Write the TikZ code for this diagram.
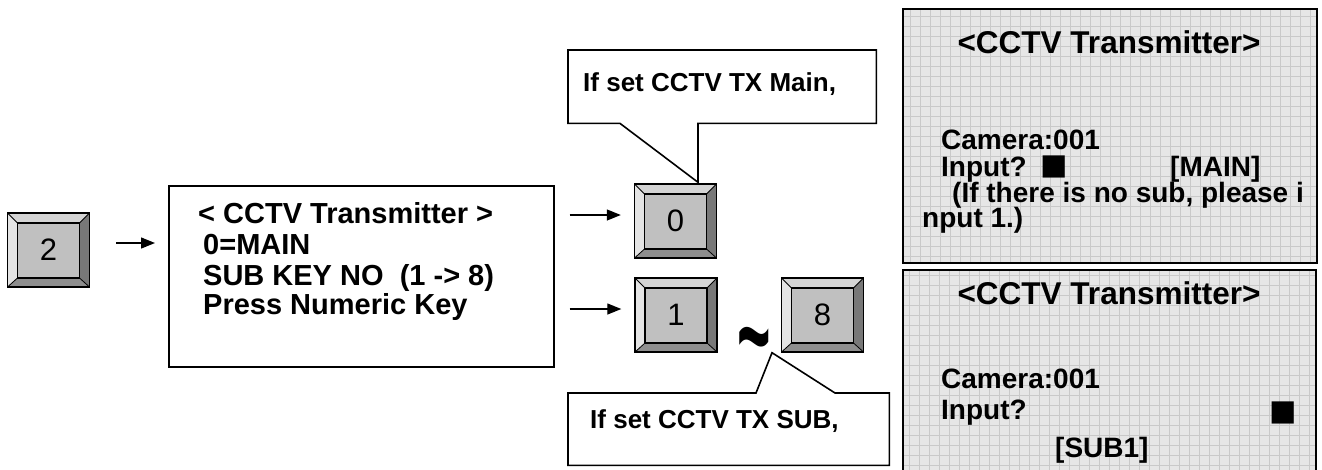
\documentclass[tikz,border=0pt]{standalone}
\usepackage{fontspec}
\setmainfont{Liberation Sans}
\newfontfamily\symfont{DejaVu Sans}
\usetikzlibrary{arrows.meta,calc}
\definecolor{keyface}{HTML}{C0C0C0}
\definecolor{bevtop}{HTML}{D4D4D4}
\definecolor{bevleft}{HTML}{E4E4E4}
\definecolor{bevright}{HTML}{787878}
\definecolor{bevbot}{HTML}{8E8E8E}
\definecolor{panelbg}{HTML}{E6E6E6}
\definecolor{gridc}{HTML}{C9C9C9}
\tikzset{
  keycap/.style={draw=black, line width=1.4pt, fill=keyface, minimum width=82pt, minimum height=74pt,
    inner sep=0pt, font=\fontsize{31}{31}\selectfont,
    path picture={
      \coordinate (KA) at (path picture bounding box.north west);
      \coordinate (KB) at (path picture bounding box.north east);
      \coordinate (KC) at (path picture bounding box.south east);
      \coordinate (KD) at (path picture bounding box.south west);
      \coordinate (Ka) at ([shift={(10pt,-10pt)}]KA);
      \coordinate (Kb) at ([shift={(-10pt,-10pt)}]KB);
      \coordinate (Kc) at ([shift={(-10pt,9pt)}]KC);
      \coordinate (Kd) at ([shift={(10pt,9pt)}]KD);
      \fill[bevtop] (KA) -- (KB) -- (Kb) -- (Ka) -- cycle;
      \fill[bevleft] (KA) -- (Ka) -- (Kd) -- (KD) -- cycle;
      \fill[bevright] (KB) -- (KC) -- (Kc) -- (Kb) -- cycle;
      \fill[bevbot] (KD) -- (KC) -- (Kc) -- (Kd) -- cycle;
      \draw[line width=1.2pt] (Ka) rectangle (Kc);
      \draw[line width=0.8pt] (KA) -- (Ka) (KB) -- (Kb) (KC) -- (Kc) (KD) -- (Kd);
    }},
  menubox/.style={draw=black, line width=1.6pt, fill=white, inner sep=0pt},
  menutxt/.style={font=\bfseries\fontsize{29}{29}\selectfont, inner sep=0pt, anchor=base west},
  calltxt/.style={font=\bfseries\fontsize{26}{26}\selectfont, inner sep=0pt, anchor=base west},
  callout/.style={draw=black, line width=1.6pt, fill=white, line join=miter},
  panel/.style={draw=black, line width=1.6pt, fill=panelbg, inner sep=0pt, anchor=north west,
    path picture={\draw[gridc, line width=0.6pt, step=10pt] (path picture bounding box.south west) grid (path picture bounding box.north east);}},
  ptitle/.style={font=\bfseries\fontsize{31.5}{31.5}\selectfont, inner sep=0pt, anchor=base},
  ptxt/.style={font=\bfseries\fontsize{28}{28}\selectfont, inner sep=0pt, anchor=base west},
  sqmark/.style={font=\symfont\fontsize{29}{29}\selectfont, inner sep=0pt},
  arr/.style={line width=1.3pt, -{Triangle[length=14pt,width=11pt]}},
}
\begin{document}
\begin{tikzpicture}[x=1pt,y=-1pt]
\useasboundingbox (0,0) rectangle (1322,469);

% keys
\node[keycap] (k2) at (48.5,250) {2};
\node[keycap] (k0) at (675.5,221) {0};
\node[keycap] (k1) at (676,315) {1};
\node[keycap] (k8) at (822.5,315) {8};

% menu box
\node[menubox, anchor=north west, minimum width=385pt, minimum height=181pt] (menu) at (168,185) {};
\node[menutxt] (m1) at (198,223) {< CCTV Transmitter >};
\node[menutxt] (m2) at (203,254) {0=MAIN};
\node[menutxt] (m3) at (203,285) {SUB KEY NO\ \ (1 -> 8)};
\node[menutxt] (m4) at (203,314) {Press Numeric Key};

% arrows
\draw[arr, shorten <=26pt, shorten >=13pt] (k2.east |- 0,243) -- (menu.west |- 0,243);
\draw[arr, shorten <=15pt, shorten >=13pt] (menu.east |- 0,215) -- (k0.west |- 0,215);
\draw[arr, shorten <=15pt, shorten >=13pt] (menu.east |- 0,309) -- (k1.west |- 0,309);

% tilde
\node[font=\bfseries\fontsize{52}{52}\selectfont, inner sep=0pt, anchor=base] (tl) at (754,378) {\scalebox{1.1}[2.4]{\textasciitilde}};

% top callout
\coordinate (t1) at ($(k0.north)+(22.5,-1)$);
\node[anchor=north west, minimum width=308pt, minimum height=73pt, inner sep=0pt] (c1) at (568,50) {};
\draw[callout] (c1.north west) -- (c1.north east) -- (c1.south east) -- (c1.south -| t1) -- (t1)
  -- ($(c1.south west)+(52,0)$) -- (c1.south west) -- cycle;
\node[calltxt] (c1t) at (583,91) {If set CCTV TX Main,};

% bottom callout
\coordinate (t2) at ($(k8.south)+(-50.5,0)$);
\node[anchor=north west, minimum width=321pt, minimum height=72pt, inner sep=0pt] (c2) at (568,393) {};
\draw[callout] (c2.south west) -- (c2.north west) -- ($(c2.north west)+(188,0)$) -- (t2)
  -- ($(c2.north west)+(267,0)$) -- (c2.north east) -- (c2.south east) -- cycle;
\node[calltxt] (c2t) at (590,428) {If set CCTV TX SUB,};

% panels
\node[panel, minimum width=414pt, minimum height=254pt] (p1) at (902,8) {};
\node[ptitle] (p1a) at (1109,53) {<CCTV Transmitter>};
\node[ptxt] (p1b) at (941,149) {Camera:001};
\node[ptxt] (p1c) at (941,176) {Input?};
\node[sqmark] (p1d) at (1054.5,167) {■};
\node[ptxt] (p1e) at (1170,176) {[MAIN]};
\node[ptxt] (p1f) at (952,202) {(If there is no sub, please i};
\node[ptxt] (p1g) at (922,227) {nput 1.)};

\node[panel, minimum width=413pt, minimum height=210pt] (p2) at (902,269) {};
\node[ptitle] (p2a) at (1109,304) {<CCTV Transmitter>};
\node[ptxt] (p2b) at (941,388) {Camera:001};
\node[ptxt] (p2c) at (941,419) {Input?};
\node[sqmark] (p2d) at (1283.5,413) {■};
\node[ptxt] (p2e) at (1055,457) {[SUB1]};
\end{tikzpicture}
\end{document}
